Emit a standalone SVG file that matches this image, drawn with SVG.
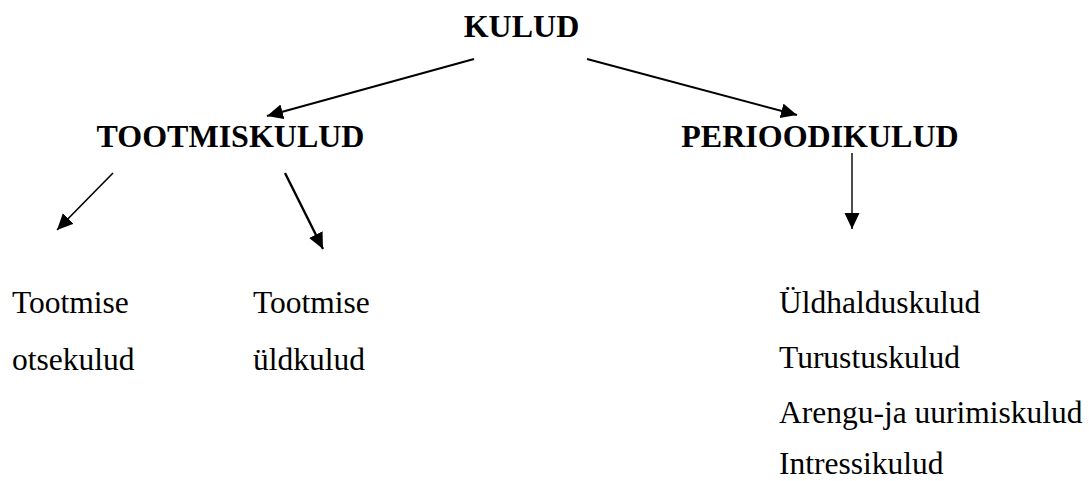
<svg xmlns="http://www.w3.org/2000/svg" width="1089" height="481" viewBox="0 0 1089 481">
  <defs>
    <style>
      .b { font-family: "Liberation Serif", "Times New Roman", serif; font-weight: bold; font-size: 32px; fill: #000; }
      .r { font-family: "Liberation Serif", "Times New Roman", serif; font-size: 31.5px; fill: #000; }
      .c { stroke: #000; fill: none; }
    </style>
    <marker id="ah" markerUnits="userSpaceOnUse" markerWidth="18" markerHeight="16" refX="16" refY="7.5" orient="auto" viewBox="0 0 18 16">
      <path d="M0,0 L16,7.5 L0,15 z" fill="#000"/>
    </marker>
  </defs>
  <rect width="1089" height="481" fill="#fff"/>
  <g id="connectors">
    <line class="c" x1="474" y1="59" x2="267" y2="116" stroke-width="2" marker-end="url(#ah)"/>
    <line class="c" x1="587" y1="59" x2="797" y2="115" stroke-width="2" marker-end="url(#ah)"/>
    <line class="c" x1="113" y1="173" x2="57" y2="230" stroke-width="1.6" marker-end="url(#ah)"/>
    <line class="c" x1="285" y1="173" x2="323" y2="249" stroke-width="2.4" marker-end="url(#ah)"/>
    <line class="c" x1="852" y1="153" x2="852" y2="229" stroke-width="1.4" marker-end="url(#ah)"/>
  </g>
  <g id="kulud"><text class="b" x="521.5" y="37" text-anchor="middle">KULUD</text></g>
  <g id="tootmiskulud"><text class="b" x="230.5" y="147" text-anchor="middle">TOOTMISKULUD</text></g>
  <g id="perioodikulud"><text class="b" x="820" y="147" text-anchor="middle">PERIOODIKULUD</text></g>
  <g id="otsekulud">
    <text class="r" x="12" y="313">Tootmise</text>
    <text class="r" x="12" y="370">otsekulud</text>
  </g>
  <g id="yldkulud">
    <text class="r" x="253" y="313">Tootmise</text>
    <text class="r" x="253" y="370">üldkulud</text>
  </g>
  <g id="perioodi-list">
    <text class="r" x="779" y="313">Üldhalduskulud</text>
    <text class="r" x="779" y="368">Turustuskulud</text>
    <text class="r" x="779" y="423">Arengu-ja uurimiskulud</text>
    <text class="r" x="779" y="474">Intressikulud</text>
  </g>
</svg>
